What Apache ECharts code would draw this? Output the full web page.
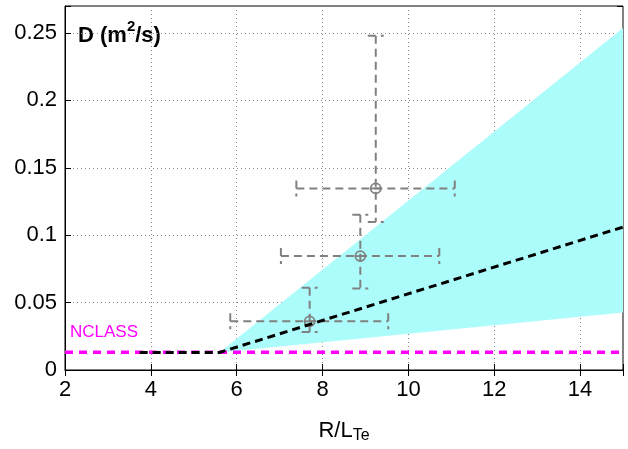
<!DOCTYPE html>
<html>
<head>
<meta charset="utf-8">
<script src="https://cdn.jsdelivr.net/npm/echarts@6/dist/echarts.min.js"></script>
<style>
  html, body { margin: 0; padding: 0; background: #fff; }
  #chart { width: 628px; height: 449px; }
</style>
</head>
<body>
<div id="chart"></div>
<script>
// model curve (black dashed)
const modelX = [3.74, 5.6, 15]
const modelY = [0.013, 0.013, 0.106]

// uncertainty band (cyan): apex, then upper / lower ends
const bandX = [5.6, 15]
const bandLo = [0.013, 0.0426]
const bandHi = [0.013, 0.2537]

// NCLASS neoclassical level
const ncX = [2, 15]
const ncY = [0.0132, 0.0132]

// experimental points with error bars
const ptX = [7.70, 8.88, 9.24]
const ptY = [0.0361, 0.0845, 0.1347]
const ptXLo = [5.85, 7.03, 7.39]
const ptXHi = [9.53, 10.72, 11.08]
const ptYLo = [0.0282, 0.0604, 0.1097]
const ptYHi = [0.0611, 0.1152, 0.2480]

const xTicks = [2, 4, 6, 8, 10, 12, 14]
const yTicks = [0, 0.05, 0.1, 0.15, 0.2, 0.25]

const font = 'Liberation Sans, Arial, Helvetica, sans-serif'
const gray = '#808080'

const chart = echarts.init(document.getElementById('chart'), null, { renderer: 'canvas' })

const isTick = (list, v) => list.some(t => Math.abs(t - v) < 1e-9)

const dotted = { show: true, lineStyle: { color: '#888', width: 1, type: [1, 3] } }

const option = {
  animation: false,
  grid: { left: 65, right: 5, top: 6, bottom: 78, show: true, borderColor: '#000', borderWidth: 1 },
  xAxis: [
    {
      type: 'value', min: 2, max: 15, interval: 2,
      axisLine: { lineStyle: { color: '#000', width: 1 } },
      axisTick: { inside: true, length: 6, lineStyle: { color: '#000' } },
      axisLabel: {
        margin: 9, color: '#000', fontFamily: font, fontSize: 22,
        formatter: v => isTick(xTicks, v) ? String(v) : ''
      },
      splitLine: dotted,
      name: '{a|R/L}{s|Te}',
      nameLocation: 'middle',
      nameGap: 50,
      nameTextStyle: {
        rich: {
          a: { fontFamily: font, fontSize: 22, color: '#000', verticalAlign: 'top', lineHeight: 24 },
          s: { fontFamily: font, fontSize: 16, color: '#000', verticalAlign: 'bottom', lineHeight: 24, padding: [16, 0, 0, 0] }
        }
      }
    },
    {
      type: 'value', min: 2, max: 15, interval: 2, position: 'top',
      axisLine: { show: false },
      axisTick: { inside: true, length: 6, lineStyle: { color: '#000' } },
      axisLabel: { show: false },
      splitLine: { show: false }
    }
  ],
  yAxis: [
    {
      type: 'value', min: 0, max: 0.27, interval: 0.05,
      axisLine: { show: true, lineStyle: { color: '#000', width: 1 } },
      axisTick: { show: true, inside: true, length: 6, lineStyle: { color: '#000' } },
      axisLabel: {
        margin: 8, color: '#000', fontFamily: font, fontSize: 22,
        formatter: v => isTick(yTicks, v) ? String(+v.toFixed(2)) : ''
      },
      splitLine: dotted
    },
    {
      type: 'value', min: 0, max: 0.27, interval: 0.05, position: 'right',
      axisLine: { show: false },
      axisTick: { show: true, inside: true, length: 6, lineStyle: { color: '#000' } },
      axisLabel: { show: false },
      splitLine: { show: false }
    }
  ],
  series: [
    {
      // cyan band
      type: 'custom',
      z: 1,
      clip: true,
      data: [[bandX[0], bandLo[0], bandHi[0], bandX[1], bandLo[1], bandHi[1]]],
      renderItem(params, api) {
        const a = api.coord([api.value(0), api.value(2)])
        const b = api.coord([api.value(3), api.value(5)])
        const c = api.coord([api.value(3), api.value(4)])
        const d = api.coord([api.value(0), api.value(1)])
        return {
          type: 'polygon',
          shape: { points: [a, b, c, d] },
          style: { fill: '#adfcfc', stroke: null }
        }
      },
      silent: true
    },
    {
      // error bars + markers
      type: 'custom',
      z: 3,
      clip: true,
      data: ptX.map((x, i) => [x, ptY[i], ptXLo[i], ptXHi[i], ptYLo[i], ptYHi[i]]),
      renderItem(params, api) {
        const c = api.coord([api.value(0), api.value(1)])
        const l = api.coord([api.value(2), api.value(1)])
        const r = api.coord([api.value(3), api.value(1)])
        const t = api.coord([api.value(0), api.value(5)])
        const b = api.coord([api.value(0), api.value(4)])
        const st = { stroke: gray, lineWidth: 2, lineDash: [8, 5], fill: null }
        const cap = 8
        const line = (x1, y1, x2, y2) => ({ type: 'line', shape: { x1, y1, x2, y2 }, style: st })
        return {
          type: 'group',
          children: [
            line(l[0], l[1], r[0], r[1]),
            line(t[0], t[1], b[0], b[1]),
            line(l[0], l[1] - cap, l[0], l[1] + cap),
            line(r[0], r[1] - cap, r[0], r[1] + cap),
            line(t[0] - cap, t[1], t[0] + cap, t[1]),
            line(b[0] - cap, b[1], b[0] + cap, b[1]),
            {
              type: 'circle',
              shape: { cx: c[0], cy: c[1], r: 5 },
              style: { stroke: gray, lineWidth: 1.8, fill: null }
            },
            {
              type: 'line',
              shape: { x1: c[0] - 5, y1: c[1], x2: c[0] + 5, y2: c[1] },
              style: { stroke: gray, lineWidth: 1.8 }
            }
          ]
        }
      },
      silent: true
    },
    {
      type: 'line',
      z: 4,
      data: ncX.map((x, i) => [x, ncY[i]]),
      symbol: 'none',
      lineStyle: { color: '#ff00ff', width: 3.5, type: [8, 6] },
      silent: true
    },
    {
      type: 'line',
      z: 5,
      data: modelX.map((x, i) => [x, modelY[i]]),
      symbol: 'none',
      lineStyle: { color: '#000', width: 3, type: [8, 5] },
      silent: true
    }
  ],
  graphic: [
    {
      type: 'text',
      left: 78,
      top: 19,
      style: {
        text: '{b|D (m}{sup|2}{b|/s)}',
        rich: {
          b: { fontFamily: font, fontSize: 22, fontWeight: 'bold', fill: '#000', verticalAlign: 'bottom', lineHeight: 28 },
          sup: { fontFamily: font, fontSize: 15, fontWeight: 'bold', fill: '#000', verticalAlign: 'top', lineHeight: 28 }
        }
      }
    },
    {
      type: 'text',
      left: 70,
      top: 324,
      style: { text: 'NCLASS', fontFamily: font, fontSize: 17, fill: '#ff00ff' }
    }
  ]
}

chart.setOption(option)
</script>
</body>
</html>
